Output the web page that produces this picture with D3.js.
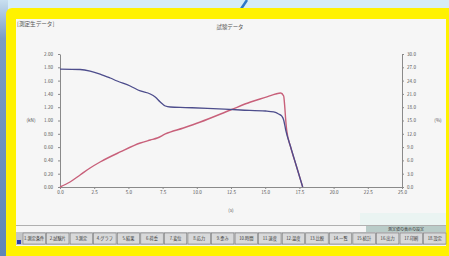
<!DOCTYPE html>
<html><head><meta charset="utf-8">
<script src="https://cdn.jsdelivr.net/npm/d3@7"></script>
<style>html,body{margin:0;padding:0;background:#d6ecf7;overflow:hidden}svg{display:block}</style>
</head><body><svg id="c" width="449" height="256"></svg>
<script>
const titleText = "試験データ";
const cornerText = "[測定生データ]";
const leftAxisTitle = "(kN)";
const rightAxisTitle = "(%)";
const xAxisTitle = "(s)";
const xTicks = [0,2.5,5,7.5,10,12.5,15,17.5,20,22.5,25];
const leftTicks = [0,0.2,0.4,0.6,0.8,1.0,1.2,1.4,1.6,1.8,2.0];
const rightTicks = [0,3,6,9,12,15,18,21,24,27,30];
// blue series (left axis)
const blueX = [0,1.47,2.20,2.93,3.67,4.18,5.13,5.87,6.60,6.96,7.33,7.70,8.06,9.16,10.78,13.20,15.03,15.62,15.98,16.20,16.35,16.50,16.86,17.30,17.74];
const blueY = [1.774,1.767,1.744,1.699,1.639,1.594,1.519,1.444,1.398,1.353,1.278,1.218,1.203,1.195,1.183,1.158,1.143,1.128,1.098,1.068,1.008,0.857,0.602,0.301,0];
// red series (right axis)
const redX = [0,0.73,1.47,2.20,2.93,4.40,5.87,6.60,7.11,7.70,9.02,10.26,12.46,13.93,15.18,15.76,16.13,16.35,16.42,16.50,16.57,16.86,17.30,17.74];
const redY = [0,1.13,2.71,4.29,5.64,7.90,9.93,10.60,11.05,11.96,13.31,14.66,17.37,19.17,20.37,20.98,21.20,20.53,18.50,15.11,12.86,9.02,4.51,0];
const tabLabels = ["1.測定条件","2.試験片","3.測定","4.グラフ","5.結果","6.荷重","7.変位","8.応力","9.歪み","10.時間","11.速度","12.温度","13.比較","14.一覧","15.統計","16.出力","17.印刷","18.設定"];
const boxText = "測定値の表示の設定";

const svg = d3.select("#c");
const FONT = "'Noto Sans CJK JP','Noto Sans',sans-serif";
// background outside frame
svg.append("rect").attr("x",0).attr("y",0).attr("width",449).attr("height",256).attr("fill","#d6ecf7");
const lg = svg.append("defs").append("linearGradient").attr("id","lstrip").attr("x1",0).attr("x2",0).attr("y1",0).attr("y2",1);
lg.append("stop").attr("offset","0").attr("stop-color","#c8dff0");
lg.append("stop").attr("offset","0.15").attr("stop-color","#7b9cc4");
lg.append("stop").attr("offset","1").attr("stop-color","#5f86b8");
svg.append("rect").attr("x",0).attr("y",0).attr("width",8).attr("height",256).attr("fill","url(#lstrip)");
svg.append("line").attr("x1",247).attr("y1",0).attr("x2",241).attr("y2",9).attr("stroke","#2f78c8").attr("stroke-width",2.5);
// yellow frame
svg.append("rect").attr("x",6).attr("y",8).attr("width",450).attr("height",260).attr("rx",6).attr("fill","#fff200");
// panel
svg.append("rect").attr("x",16).attr("y",19).attr("width",430).attr("height",227).attr("fill","#f6f6f6");

const x = d3.scaleLinear().domain([0,25]).range([60,402]);
const yL = d3.scaleLinear().domain([0,2]).range([187,54]);
const yR = d3.scaleLinear().domain([0,30]).range([187,54]);

function styleAxis(g){
  g.selectAll("path").attr("stroke","#8a8a8a");
  g.selectAll("line").attr("stroke","#8a8a8a");
  g.selectAll("text").attr("fill","#555").attr("font-size","4.6px").attr("font-family",FONT);
}
const gx = svg.append("g").attr("transform","translate(0,187)")
  .call(d3.axisBottom(x).tickValues(xTicks).tickFormat(d3.format(".1f")).tickSize(2).tickSizeOuter(0).tickPadding(1.5));
styleAxis(gx);
const gl = svg.append("g").attr("transform","translate(60,0)")
  .call(d3.axisLeft(yL).tickValues(leftTicks).tickFormat(d3.format(".2f")).tickSize(2).tickSizeOuter(0).tickPadding(5));
styleAxis(gl);
const gr = svg.append("g").attr("transform","translate(402,0)")
  .call(d3.axisRight(yR).tickValues(rightTicks).tickFormat(d3.format(".1f")).tickSize(2).tickSizeOuter(0).tickPadding(3));
styleAxis(gr);

const txt = (t,xx,yy,size,anchor,fill) => svg.append("text").attr("x",xx).attr("y",yy).attr("font-size",size+"px")
  .attr("font-family",FONT).attr("text-anchor",anchor||"start").attr("fill",fill||"#444").text(t);
txt(cornerText,17,26,5.6,"start","#555");
txt(titleText,230,29,5.4,"middle","#555");
txt(leftAxisTitle,31,122,4.6,"middle","#555");
txt(rightAxisTitle,438,122,4.6,"middle","#555");
txt(xAxisTitle,231,212,4.6,"middle","#555");

const blue = blueX.map((v,i)=>[v,blueY[i]]);
const red = redX.map((v,i)=>[v,redY[i]]);
svg.append("path").datum(red).attr("fill","none").attr("stroke","#c8607a").attr("stroke-width",1.4)
  .attr("d",d3.line().x(d=>x(d[0])).y(d=>yR(d[1])).curve(d3.curveMonotoneX));
svg.append("path").datum(blue).attr("fill","none").attr("stroke","#4d4d8c").attr("stroke-width",1.3)
  .attr("d",d3.line().x(d=>x(d[0])).y(d=>yL(d[1])).curve(d3.curveMonotoneX));

// bottom UI
svg.append("rect").attr("x",360).attr("y",213).attr("width",86).attr("height",12).attr("fill","#eaf4f2");
svg.append("line").attr("x1",16).attr("x2",446).attr("y1",225.5).attr("y2",225.5).attr("stroke","#b0b0b0").attr("stroke-width",1);
svg.append("rect").attr("x",366).attr("y",226).attr("width",80).attr("height",6).attr("fill","#b9ccc8");
txt(boxText,406,230.8,4,"middle","#333");
svg.append("rect").attr("x",16).attr("y",232).attr("width",430).attr("height",13).attr("fill","#c4c6c8");
svg.append("rect").attr("x",17).attr("y",240).attr("width",4).attr("height",4).attr("fill","#2a3fb0");
const tabX = d3.scaleBand().domain(tabLabels).range([23,446]).paddingInner(0.05);
tabLabels.forEach(t=>{
  svg.append("rect").attr("x",tabX(t)).attr("y",233).attr("width",tabX.bandwidth()).attr("height",11)
    .attr("fill","#d8d9da").attr("stroke","#707070").attr("stroke-width",0.5);
  txt(t,tabX(t)+tabX.bandwidth()/2,240,4.2,"middle","#333");
});
</script></body></html>
